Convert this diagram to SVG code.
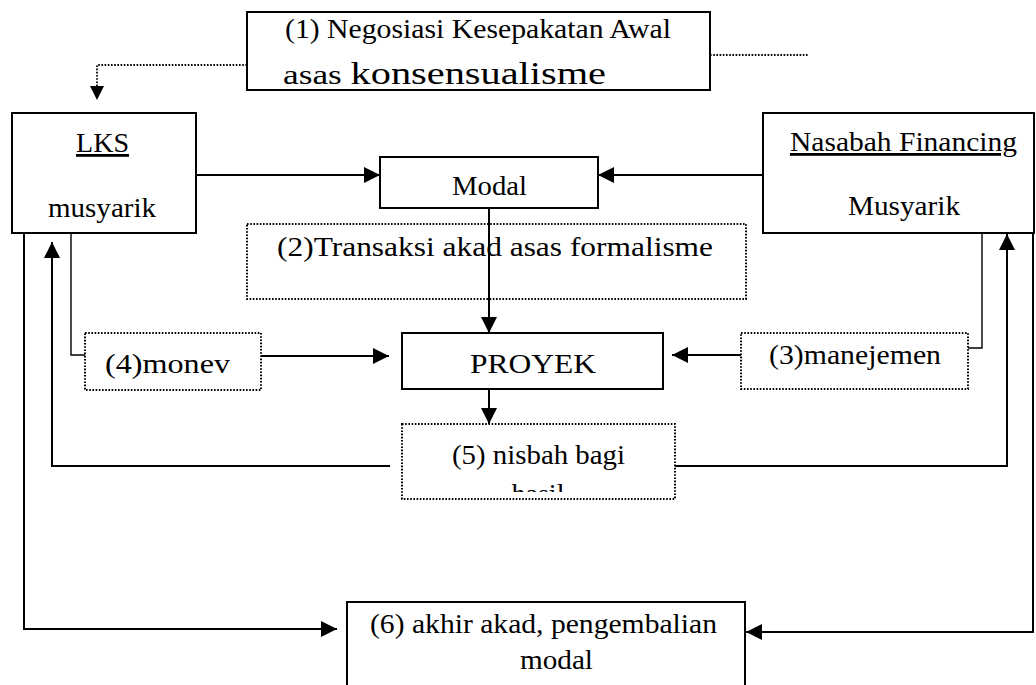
<svg xmlns="http://www.w3.org/2000/svg" width="1036" height="685" viewBox="0 0 1036 685">
<style>
text{font-family:"Liberation Serif","Times New Roman",serif;font-size:28px;fill:#000}
.box{fill:#fff;stroke:#000;stroke-width:2}
.dbox{fill:#fff;stroke:#000;stroke-width:2;stroke-dasharray:1.6 1.6}
.ln{fill:none;stroke:#000;stroke-width:2}
.thin{fill:none;stroke:#000;stroke-width:1.4}
.dot{fill:none;stroke:#000;stroke-width:1.8;stroke-dasharray:1.6 1.6}
.u{text-decoration:underline}
</style>
<defs>
<marker id="ah" markerUnits="userSpaceOnUse" markerWidth="17" markerHeight="16" refX="16" refY="8" orient="auto">
<path d="M0,0 L16,8 L0,16 Z" fill="#000"/>
</marker>
<clipPath id="c5"><rect x="402" y="424" width="273" height="68"/></clipPath>
</defs>

<g id="connectors">
<path class="dot" d="M247,65 H97 V86"/>
<path d="M90,86 L104,86 L97,100 Z" fill="#000"/>
<path class="dot" d="M710,55 H809"/>
<path class="ln" d="M196,175 H380" marker-end="url(#ah)"/>
<path class="ln" d="M763,175 H598" marker-end="url(#ah)"/>
<path class="ln" d="M489,208 V333" marker-end="url(#ah)"/>
<path class="thin" d="M71,233 V355 H85"/>
<path class="ln" d="M261,356 H389" marker-end="url(#ah)"/>
<path class="thin" d="M982,233 V348 H968"/>
<path class="ln" d="M741,355 H672" marker-end="url(#ah)"/>
<path class="ln" d="M489,389 V424" marker-end="url(#ah)"/>
<path class="ln" d="M390,466 H52 V242" marker-end="url(#ah)"/>
<path class="ln" d="M675,466 H1007 V234" marker-end="url(#ah)"/>
<path class="ln" d="M24,233 V629 H337" marker-end="url(#ah)"/>
<path class="ln" d="M1033,233 V632 H746" marker-end="url(#ah)"/>
</g>

<g id="n1">
<rect class="box" x="247" y="12" width="463" height="78"/>
<text x="285" y="38" textLength="386" lengthAdjust="spacingAndGlyphs">(1) Negosiasi Kesepakatan Awal</text>
<text x="283" y="84" textLength="323" lengthAdjust="spacingAndGlyphs">asas <tspan font-size="32">konsensualisme</tspan></text>
</g>

<g id="lks">
<rect class="box" x="12" y="113" width="184" height="120"/>
<text class="u" x="76" y="152" textLength="53" lengthAdjust="spacingAndGlyphs">LKS</text>
<text x="48" y="217" textLength="108" lengthAdjust="spacingAndGlyphs">musyarik</text>
</g>

<g id="nasabah">
<rect class="box" x="763" y="113" width="271" height="120"/>
<text class="u" x="790" y="151" textLength="227" lengthAdjust="spacingAndGlyphs">Nasabah Financing</text>
<text x="848" y="215" textLength="112" lengthAdjust="spacingAndGlyphs">Musyarik</text>
</g>

<g id="modal">
<rect class="box" x="380" y="157" width="218" height="51"/>
<text x="452" y="195" textLength="75" lengthAdjust="spacingAndGlyphs">Modal</text>
</g>

<g id="n2">
<rect class="dbox" x="247" y="224" width="499" height="75" style="fill:none"/>
<text x="277" y="256" textLength="436" lengthAdjust="spacingAndGlyphs">(2)Transaksi akad asas formalisme</text>
</g>

<g id="monev">
<rect class="dbox" x="85" y="333" width="176" height="57"/>
<text x="105" y="373" textLength="125" lengthAdjust="spacingAndGlyphs">(4)monev</text>
</g>

<g id="proyek">
<rect class="box" x="402" y="333" width="261" height="56"/>
<text x="470" y="373" font-size="31" textLength="126" lengthAdjust="spacingAndGlyphs">PROYEK</text>
</g>

<g id="manejemen">
<rect class="dbox" x="741" y="333" width="227" height="56"/>
<text x="769" y="364" textLength="172" lengthAdjust="spacingAndGlyphs">(3)manejemen</text>
</g>

<g id="n5">
<rect class="dbox" x="402" y="424" width="273" height="75"/>
<text x="452" y="464" textLength="173" lengthAdjust="spacingAndGlyphs">(5) nisbah bagi</text>
<text x="538" y="503" text-anchor="middle" clip-path="url(#c5)">hasil</text>
</g>

<g id="n6">
<rect class="box" x="347" y="602" width="398" height="100"/>
<text x="370" y="633" textLength="347" lengthAdjust="spacingAndGlyphs">(6) akhir akad, pengembalian</text>
<text x="520" y="669" textLength="73" lengthAdjust="spacingAndGlyphs">modal</text>
</g>
</svg>
